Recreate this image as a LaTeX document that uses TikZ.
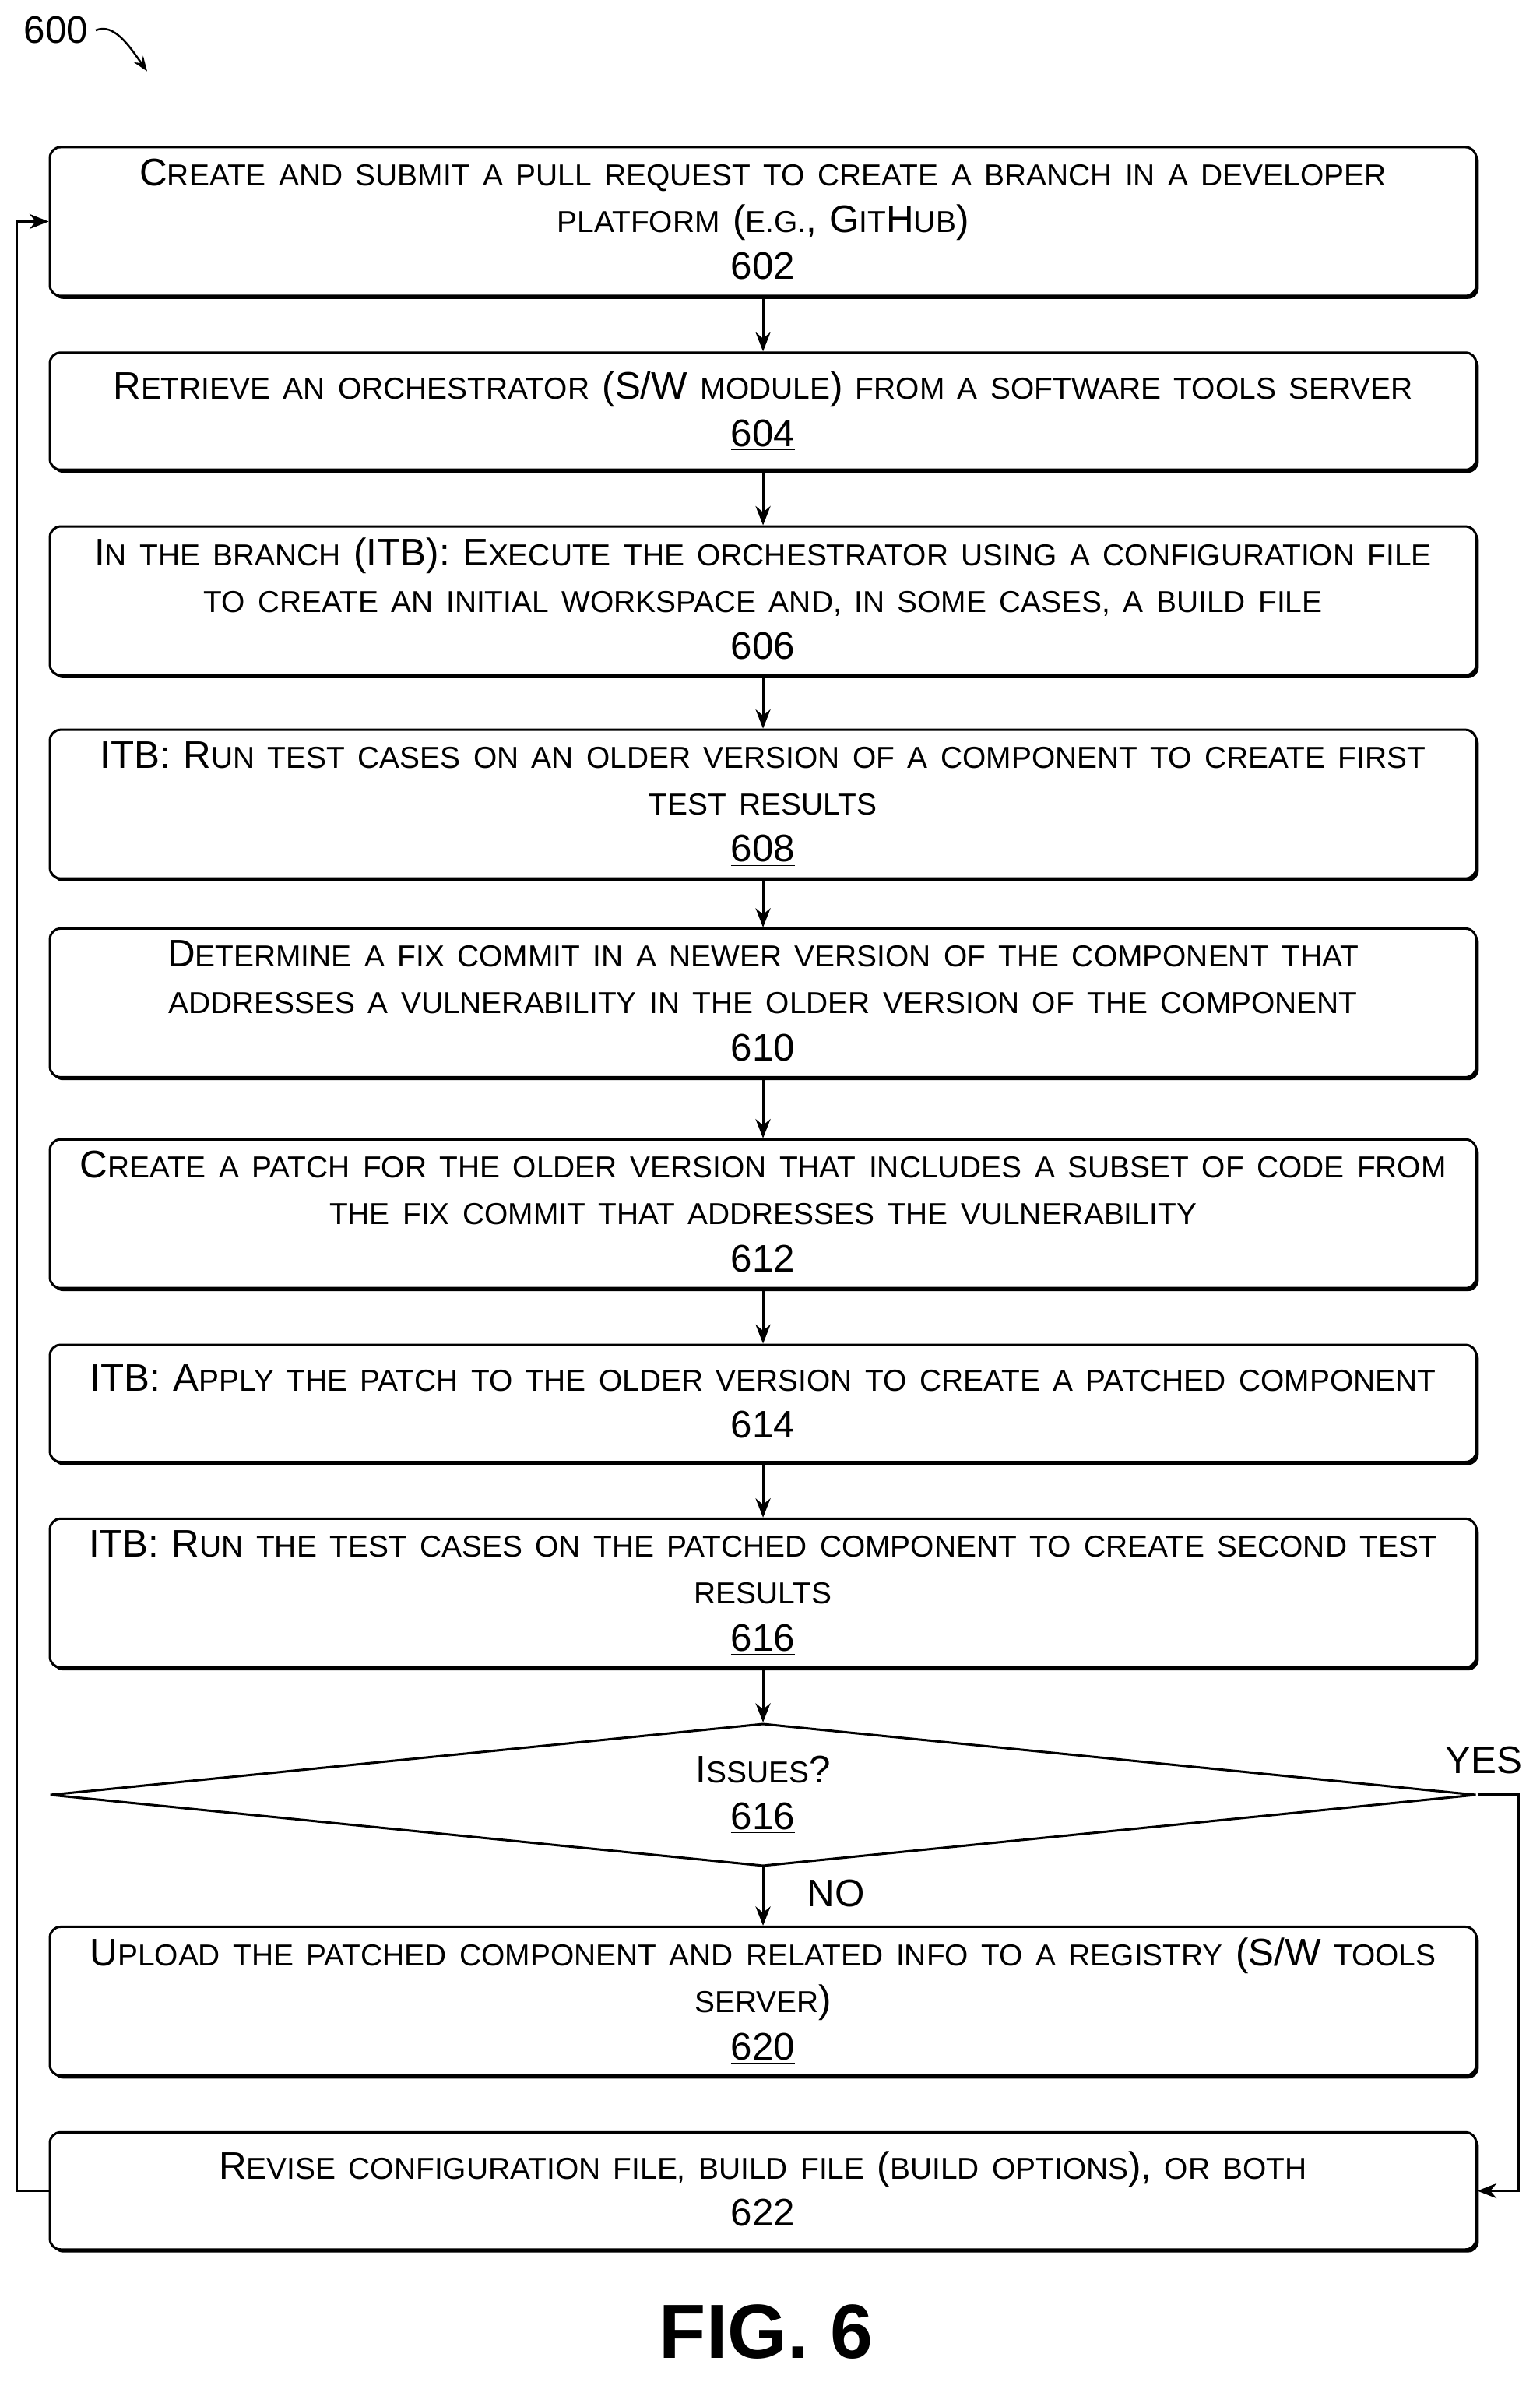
\documentclass[tikz,border=0pt]{standalone}
\usepackage{fontspec}
\setmainfont{Liberation Sans}
\usetikzlibrary{shapes.geometric,shadows,arrows.meta}
\newcommand\lc[1]{{\fontsize{14.2}{22}\selectfont #1}}
\tikzset{
  stepbox/.style={draw, line width=1.1pt, rounded corners=5pt, fill=white,
    drop shadow={opacity=1, fill=black, shadow xshift=1.2pt, shadow yshift=-1.4pt},
    minimum width=23.5cm, text width=23.4cm, align=center, inner sep=1pt,
    font=\fontsize{18}{22}\selectfont},
  decide/.style={draw, line width=1.1pt, diamond, aspect=12, inner sep=0pt,
    minimum width=23.5cm, minimum height=2.35cm, align=center,
    font=\fontsize{18}{22}\selectfont},
  flow/.style={-{Stealth[length=9pt,width=7pt]}, line width=1.1pt}
}
\begin{document}
\begin{tikzpicture}[x=0.025cm,y=-0.025cm]
\useasboundingbox (0,0) rectangle (1015,1570);
\node[stepbox, minimum height=2.45cm] (s602) at (503,146) {C\lc{REATE AND SUBMIT A PULL REQUEST TO CREATE A BRANCH IN A DEVELOPER}\\\lc{PLATFORM} (\lc{E.G.}, G\lc{IT}H\lc{UB})\\\underline{602}};
\node[stepbox, minimum height=1.93cm] (s604) at (503,271) {R\lc{ETRIEVE AN ORCHESTRATOR} (S/W \lc{MODULE}) \lc{FROM A SOFTWARE TOOLS SERVER}\\\underline{604}};
\node[stepbox, minimum height=2.45cm] (s606) at (503,396) {I\lc{N THE BRANCH} (ITB): E\lc{XECUTE THE ORCHESTRATOR USING A CONFIGURATION FILE}\\\lc{TO CREATE AN INITIAL WORKSPACE AND, IN SOME CASES, A BUILD FILE}\\\underline{606}};
\node[stepbox, minimum height=2.45cm] (s608) at (503,530) {ITB: R\lc{UN TEST CASES ON AN OLDER VERSION OF A COMPONENT TO CREATE FIRST}\\\lc{TEST RESULTS}\\\underline{608}};
\node[stepbox, minimum height=2.45cm] (s610) at (503,661) {D\lc{ETERMINE A FIX COMMIT IN A NEWER VERSION OF THE COMPONENT THAT}\\\lc{ADDRESSES A VULNERABILITY IN THE OLDER VERSION OF THE COMPONENT}\\\underline{610}};
\node[stepbox, minimum height=2.45cm] (s612) at (503,800) {C\lc{REATE A PATCH FOR THE OLDER VERSION THAT INCLUDES A SUBSET OF CODE FROM}\\\lc{THE FIX COMMIT THAT ADDRESSES THE VULNERABILITY}\\\underline{612}};
\node[stepbox, minimum height=1.93cm] (s614) at (503,925) {ITB: A\lc{PPLY THE PATCH TO THE OLDER VERSION TO CREATE A PATCHED COMPONENT}\\\underline{614}};
\node[stepbox, minimum height=2.45cm] (s616) at (503,1050) {ITB: R\lc{UN THE TEST CASES ON THE PATCHED COMPONENT TO CREATE SECOND TEST}\\\lc{RESULTS}\\\underline{616}};
\node[decide] (d616) at (503,1183) {I\lc{SSUES}?\\\underline{616}};
\node[stepbox, minimum height=2.45cm] (s620) at (503,1319) {U\lc{PLOAD THE PATCHED COMPONENT AND RELATED INFO TO A REGISTRY} (S/W \lc{TOOLS}\\\lc{SERVER})\\\underline{620}};
\node[stepbox, minimum height=1.93cm] (s622) at (503,1444) {R\lc{EVISE CONFIGURATION FILE, BUILD FILE} (\lc{BUILD OPTIONS}), \lc{OR BOTH}\\\underline{622}};

\foreach \a/\b in {s602/s604,s604/s606,s606/s608,s608/s610,s610/s612,s612/s614,s614/s616,s616/d616,d616/s620}
  \draw[flow] (\a) -- (\b);
\node[font=\fontsize{18}{20}\selectfont] (no) at (551,1248) {NO};
\node[font=\fontsize{18}{20}\selectfont] (yes) at (978,1160) {YES};
\draw[flow] (d616.east) -- ++(27,0) |- (s622.east);
\draw[flow] (s622.west) -- ++(-21,0) |- (s602.west);

\node[font=\fontsize{18}{20}\selectfont] (lbl) at (37,20) {600};
\draw[-{Stealth[length=7pt]}, line width=0.9pt] (lbl.east) .. controls (75,15) and (85,30) .. (97,47);
\node[font=\bfseries\fontsize{36}{40}\selectfont] (fig) at (505,1537) {FIG. 6};
\end{tikzpicture}
\end{document}
